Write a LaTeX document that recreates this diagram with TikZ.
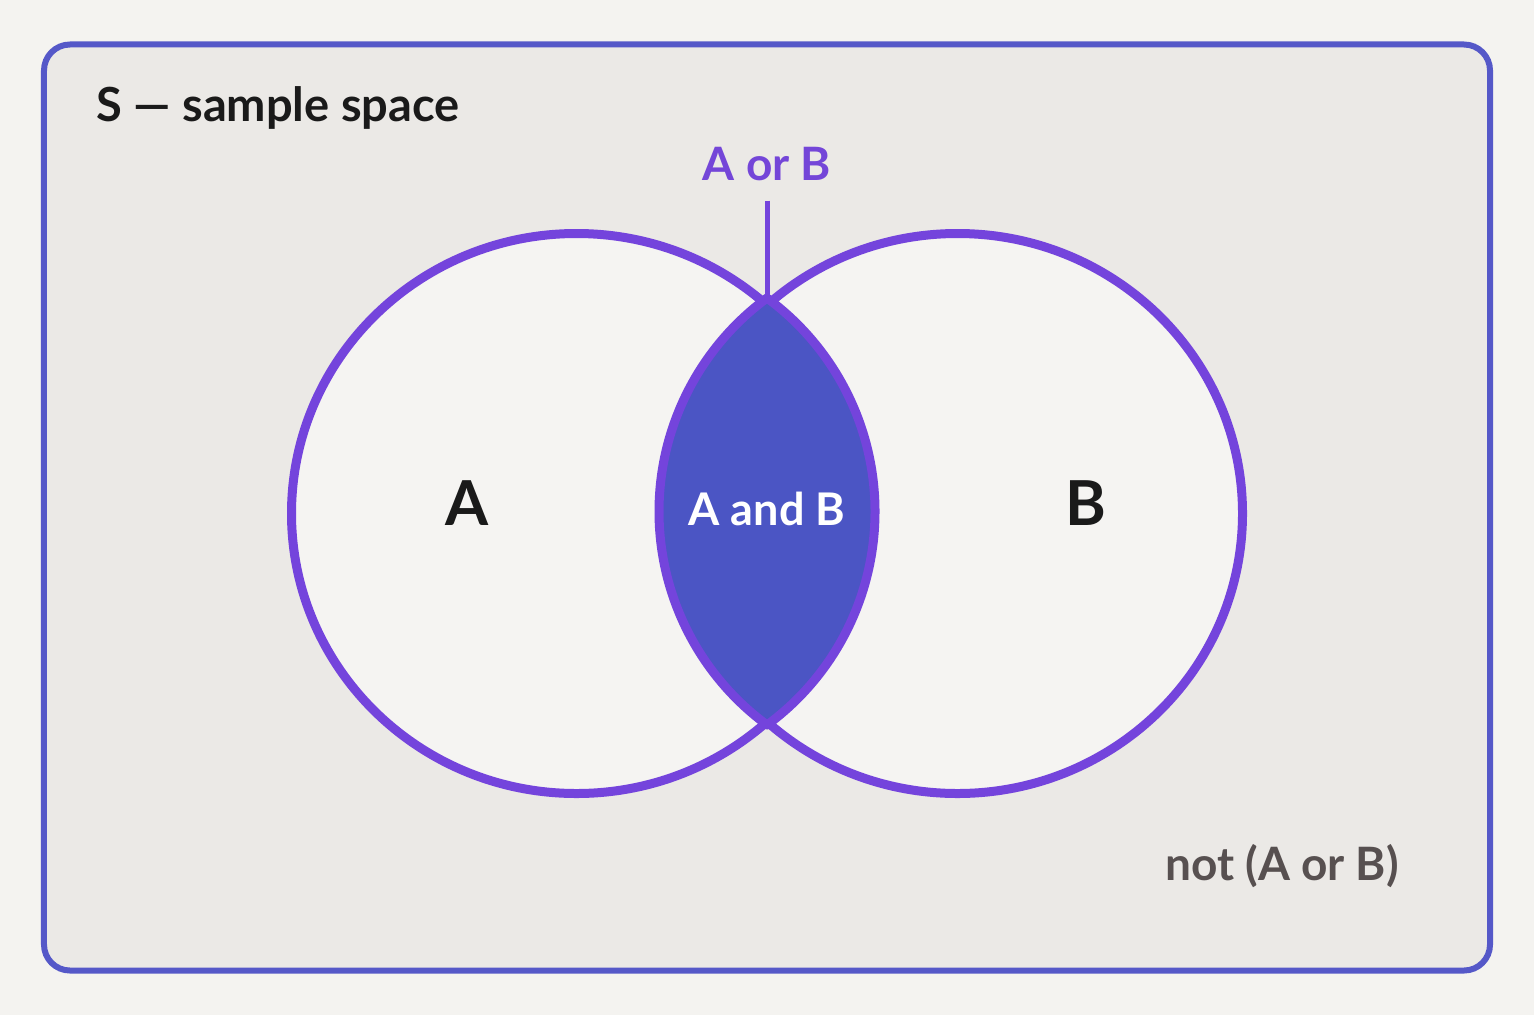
\documentclass[tikz,border=0pt]{standalone}
\usepackage{fontspec}
\setmainfont{Lato}
\usetikzlibrary{shapes.geometric}
\definecolor{bgc}{HTML}{F4F3F0}
\definecolor{boxc}{HTML}{EBE9E6}
\definecolor{borderc}{HTML}{5558C8}
\definecolor{ringc}{HTML}{7444DC}
\definecolor{setfill}{HTML}{F5F4F2}
\definecolor{lensc}{HTML}{4B55C4}
\definecolor{orc}{HTML}{7446D8}
\definecolor{notc}{HTML}{575050}
\definecolor{inkc}{HTML}{1A1A1A}
\tikzset{
  setshape/.style={ellipse, draw=ringc, line width=9bp, fill=setfill, minimum width=570bp, minimum height=560bp, inner sep=0pt},
  lensstyle/.style={fill=lensc, draw=ringc, line width=9bp, line join=round},
  biglabel/.style={font=\bfseries\fontsize{62bp}{66bp}\selectfont, text=inkc, inner sep=0pt, anchor=base},
  midlabel/.style={font=\bfseries\fontsize{45bp}{50bp}\selectfont, inner sep=0pt},
}
\begin{document}
\begin{tikzpicture}[x=1bp,y=-1bp]
\useasboundingbox (0,0) rectangle (1534,1015);
\fill[bgc] (0,0) rectangle (1534,1015);
\node[draw=borderc, line width=6bp, fill=boxc, rounded corners=26bp, minimum width=1446bp, minimum height=926bp, inner sep=0pt] (S) at (767,507.5) {};
% sets
\node[setshape] (A) at (576.5,513.5) {};
\node[setshape] (B) at (957.5,513.5) {};
% intersection (drawn on top of both sets)
\coordinate (top) at (767,298);
\coordinate (bot) at (767,725);
\path[lensstyle] (top) arc[start angle=-126.33, end angle=-233.67, radius=265]
   -- (bot) arc[start angle=53.67, end angle=-53.67, radius=265] -- cycle;
% labels
\node[midlabel, text=inkc, anchor=base west, font=\bfseries\fontsize{47bp}{52bp}\selectfont] (title) at (96,121) {S — sample space};
\node[midlabel, text=orc, anchor=base, font=\bfseries\fontsize{46bp}{50bp}\selectfont] (aorb) at (767,180) {A or B};
\draw[ringc, line width=5bp] (aorb.south) ++(0,20) -- (top);
\node[biglabel] (la) at (467,525) {A};
\node[biglabel] (lb) at (1086,525) {B};
\node[midlabel, text=white, anchor=base] (aandb) at (767,525) {A and B};
\node[midlabel, text=notc, anchor=base east, font=\bfseries\fontsize{46bp}{50bp}\selectfont] (nab) at (1399,880) {not (A or B)};
\end{tikzpicture}
\end{document}
